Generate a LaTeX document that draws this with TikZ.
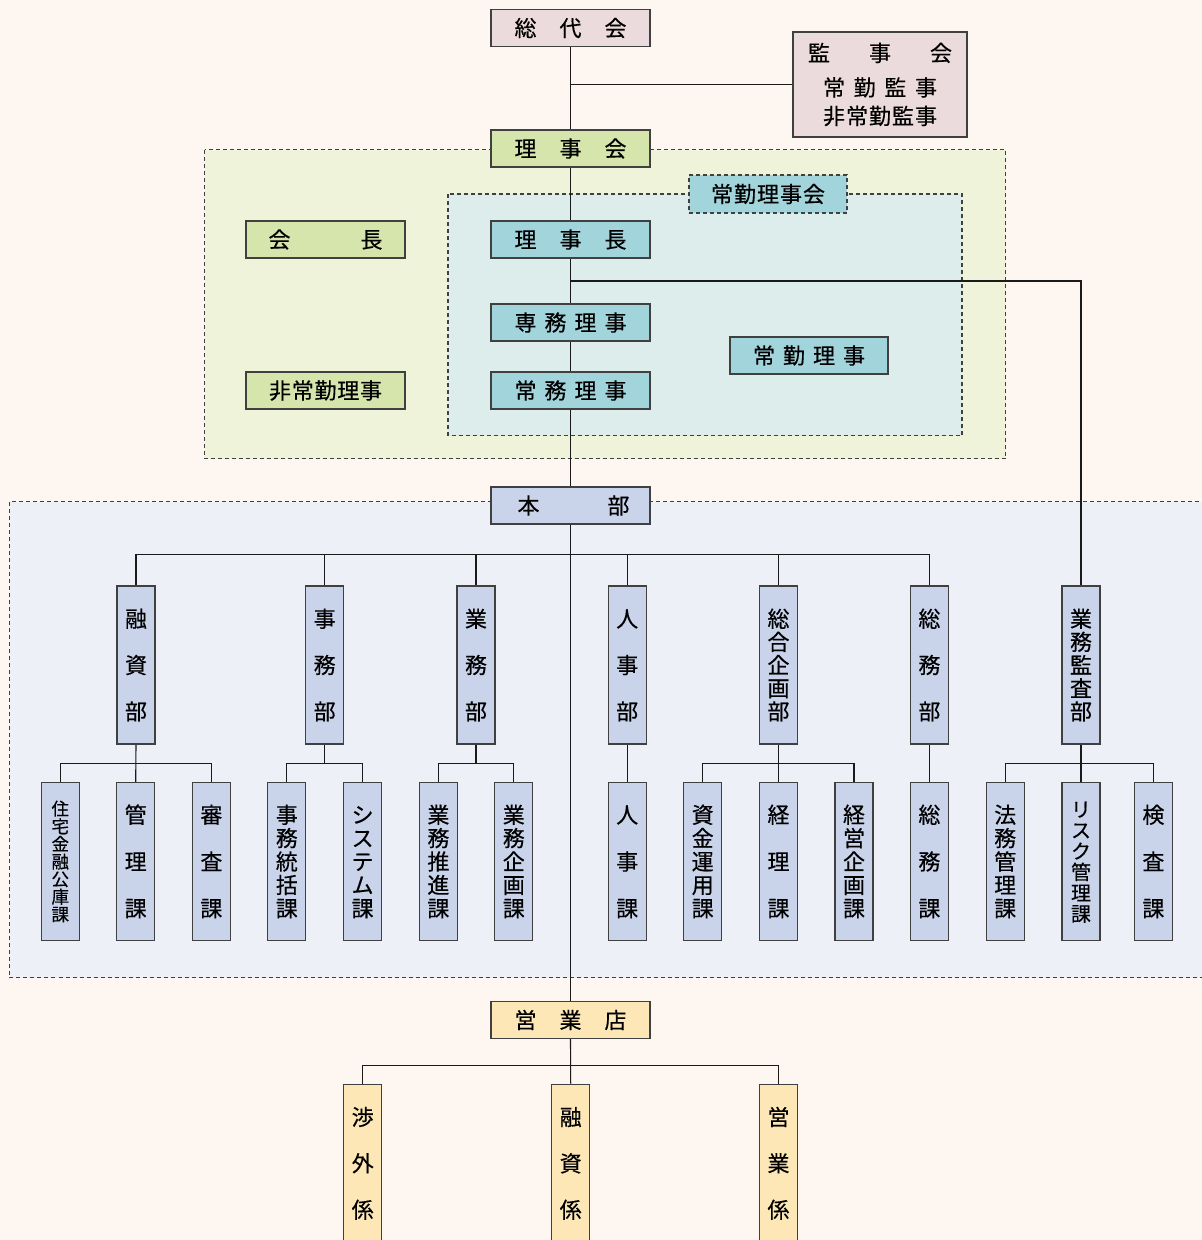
\documentclass[tikz,border=0pt]{standalone}
\usepackage{fontspec}
\setmainfont{Noto Sans CJK JP}[FakeBold=0.4]
\definecolor{bgc}{HTML}{FDF6F1}
\definecolor{pinkbox}{HTML}{ECDBDC}
\definecolor{greenbox}{HTML}{D5E5AB}
\definecolor{greenreg}{HTML}{EFF3D9}
\definecolor{tealbox}{HTML}{A2D4DB}
\definecolor{tealreg}{HTML}{DDEDEB}
\definecolor{bluebox}{HTML}{C9D3EA}
\definecolor{bluereg}{HTML}{EEF0F7}
\definecolor{yellowbox}{HTML}{FDE7B6}
\definecolor{bordc}{HTML}{404040}
\definecolor{linec}{HTML}{1A1A1A}
% distributed horizontal / vertical text
\def\hloop#1#2{#1\ifx#2\relax\else\hfill\expandafter\hloop\expandafter#2\fi}
\newcommand\hd[2]{\hbox to #1{\hloop#2\relax}}
\def\vloop#1#2{\hbox to 1em{\hss\vrule height .88em depth .12em width 0pt\relax#1\hss}\ifx#2\relax\else\vfill\expandafter\vloop\expandafter#2\fi}
\newcommand\vd[2]{\vbox to #1{\offinterlineskip\vloop#2\relax}}
\pgfdeclarelayer{bglayer}
\pgfdeclarelayer{linelayer}
\pgfsetlayers{bglayer,linelayer,main}
\tikzset{
  box/.style={draw=bordc, line width=1.3pt, inner sep=0pt, minimum width=159pt,
    minimum height=37pt, font=\fontsize{22}{26}\selectfont},
  vbx/.style={box, minimum width=38pt, minimum height=158pt},
  conn/.style={draw=linec, line width=1.1pt},
  region/.style={draw=bordc, line width=1.1pt, dash pattern=on 4pt off 3pt},
}
\begin{document}
\begin{tikzpicture}[x=1pt,y=-1pt]
\useasboundingbox (0,0) rectangle (1202,1240);
\begin{pgfonlayer}{bglayer}
\fill[bgc] (0,0) rectangle (1202,1240);
\filldraw[region, fill=greenreg] (204.5,149.5) rectangle (1005.5,458.5);
\filldraw[region, fill=tealreg] (448,194) rectangle (962,435.5);
\filldraw[region, fill=bluereg] (9.5,501.5) rectangle (1220,977.5);
\end{pgfonlayer}

% nodes: top
\node[box, fill=pinkbox] (sodai) at (570.5,28) {\hd{112pt}{総代会}};
\node[box, fill=pinkbox, minimum width=174pt, minimum height=105pt, align=center] (kanji) at (880,84.5)
  {\hd{144pt}{監事会}\\[8.5pt]\hd{114pt}{常勤監事}\\[2.5pt]\hd{114pt}{非常勤監事}};
\node[box, fill=greenbox] (rijikai) at (570.5,148.5) {\hd{112pt}{理事会}};
\node[box, fill=tealbox, dash pattern=on 4pt off 3pt, line width=1.1pt, minimum width=158pt, minimum height=38pt] (jokinkai) at (768,194) {\hd{114pt}{常勤理事会}};
\node[box, fill=greenbox] (kaicho) at (325.5,239.5) {\hd{114pt}{会長}};
\node[box, fill=tealbox] (rijicho) at (570.5,239.5) {\hd{112pt}{理事長}};
\node[box, fill=tealbox] (senmu) at (570.5,322.5) {\hd{112pt}{専務理事}};
\node[box, fill=tealbox, minimum width=158pt] (jokinriji) at (809,355.5) {\hd{112pt}{常勤理事}};
\node[box, fill=greenbox] (hijokin) at (325.5,390.5) {\hd{113pt}{非常勤理事}};
\node[box, fill=tealbox] (jomu) at (570.5,390.5) {\hd{112pt}{常務理事}};
\node[box, fill=bluebox] (honbu) at (570.5,505.5) {\kern6pt\hd{112pt}{本部}};
\node[box, fill=yellowbox] (eigyoten) at (570.5,1020) {\hd{112pt}{営業店}};

% departments
\node[vbx, fill=bluebox] (d1) at (136,665) {\vd{112pt}{融資部}};
\node[vbx, fill=bluebox] (d2) at (324.7,665) {\vd{112pt}{事務部}};
\node[vbx, fill=bluebox] (d3) at (476,665) {\vd{112pt}{業務部}};
\node[vbx, fill=bluebox] (d4) at (627.2,665) {\vd{112pt}{人事部}};
\node[vbx, fill=bluebox] (d5) at (778.5,665) {\vd{112pt}{総合企画部}};
\node[vbx, fill=bluebox] (d6) at (929.4,665) {\vd{112pt}{総務部}};
\node[vbx, fill=bluebox] (d7) at (1081,665) {\vd{112pt}{業務監査部}};

% sections
\node[vbx, fill=bluebox, font=\fontsize{17.5}{20}\selectfont] (s1) at (60.3,861.5) {\vd{121pt}{住宅金融公庫課}};
\node[vbx, fill=bluebox] (s2) at (135.7,861.5) {\vd{113pt}{管理課}};
\node[vbx, fill=bluebox] (s3) at (211.4,861.5) {\vd{113pt}{審査課}};
\node[vbx, fill=bluebox] (s4) at (286.8,861.5) {\vd{113pt}{事務統括課}};
\node[vbx, fill=bluebox] (s5) at (362.6,861.5) {\vd{113pt}{システム課}};
\node[vbx, fill=bluebox] (s6) at (438.4,861.5) {\vd{113pt}{業務推進課}};
\node[vbx, fill=bluebox] (s7) at (513.8,861.5) {\vd{113pt}{業務企画課}};
\node[vbx, fill=bluebox] (s8) at (627.2,861.5) {\vd{113pt}{人事課}};
\node[vbx, fill=bluebox] (s9) at (702.7,861.5) {\vd{113pt}{資金運用課}};
\node[vbx, fill=bluebox] (s10) at (778.5,861.5) {\vd{113pt}{経理課}};
\node[vbx, fill=bluebox] (s11) at (854,861.5) {\vd{113pt}{経営企画課}};
\node[vbx, fill=bluebox] (s12) at (929.4,861.5) {\vd{113pt}{総務課}};
\node[vbx, fill=bluebox] (s13) at (1005.2,861.5) {\vd{113pt}{法務管理課}};
\node[vbx, fill=bluebox, font=\fontsize{20}{24}\selectfont] (s14) at (1081,861.5) {\vd{122pt}{リスク管理課}};
\node[vbx, fill=bluebox] (s15) at (1153.4,861.5) {\vd{113pt}{検査課}};

% branch
\node[vbx, fill=yellowbox] (b1) at (362.7,1163.3) {\vd{112pt}{渉外係}};
\node[vbx, fill=yellowbox] (b2) at (570.7,1163.3) {\vd{112pt}{融資係}};
\node[vbx, fill=yellowbox] (b3) at (778.5,1163.3) {\vd{112pt}{営業係}};

% connectors (behind boxes)
\begin{pgfonlayer}{linelayer}
\coordinate (kj) at (570.5,84.5);
\coordinate (audit) at (570.5,281);
\coordinate (bus) at (570.5,554.5);
\coordinate (sbus) at (570.5,763.5);
\coordinate (obus) at (570.5,1065.3);

\draw[conn] (sodai.south) -- (rijikai.north);
\draw[conn] (kj) -- (kanji.west);
\draw[conn] (rijikai.south) -- (rijicho.north);
\draw[conn] (rijicho.south) -- (senmu.north);
\draw[conn] (senmu.south) -- (jomu.north);
\draw[conn] (jomu.south) -- (honbu.north);
\draw[conn] (honbu.south) -- (eigyoten.north);
\draw[conn] (audit) -| (d7.north);
\draw[conn] (d1.north) |- (bus) -| (d6.north);
\foreach \d in {d2,d3,d4,d5}{\draw[conn] (\d.north) -- (\d.north |- bus);}
% sub buses
\draw[conn] (d1.south) -- (s2.north);
\draw[conn] (s1.north) |- (d1.south |- sbus) -| (s3.north);
\draw[conn] (d2.south) -- (d2.south |- sbus);
\draw[conn] (s4.north) |- (d2.south |- sbus) -| (s5.north);
\draw[conn] (d3.south) -- (d3.south |- sbus);
\draw[conn] (s6.north) |- (d3.south |- sbus) -| (s7.north);
\draw[conn] (d4.south) -- (s8.north);
\draw[conn] (d5.south) -- (s10.north);
\draw[conn] (s9.north) |- (d5.south |- sbus) -| (s11.north);
\draw[conn] (d6.south) -- (s12.north);
\draw[conn] (d7.south) -- (s14.north);
\draw[conn] (s13.north) |- (d7.south |- sbus) -| (s15.north);
% branch bus
\draw[conn] (eigyoten.south) -- (b2.north);
\draw[conn] (b1.north) |- (obus) -| (b3.north);
\end{pgfonlayer}
\end{tikzpicture}
\end{document}
